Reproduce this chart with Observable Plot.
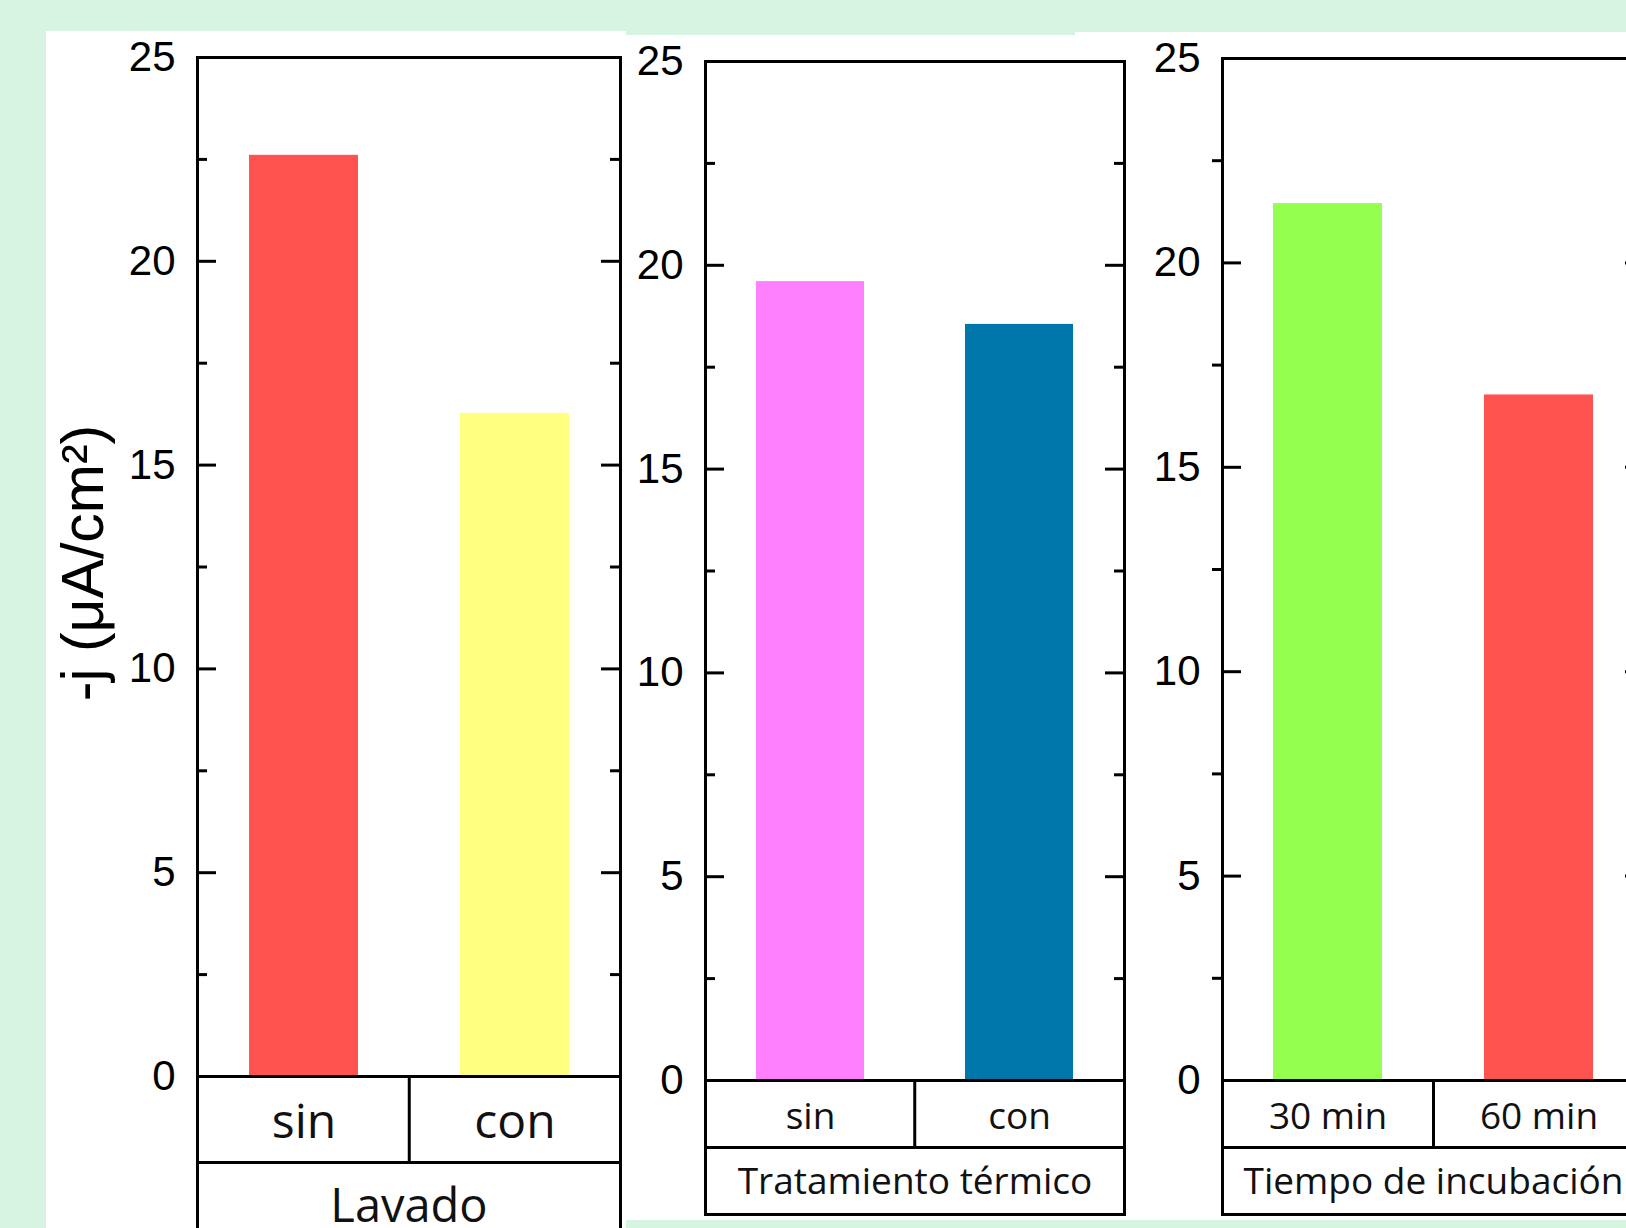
<!DOCTYPE html>
<html><head><meta charset="utf-8">
<script src="https://cdn.jsdelivr.net/npm/d3@7"></script>
<script src="https://cdn.jsdelivr.net/npm/@observablehq/plot@0.6"></script>
<style>
html,body{margin:0;padding:0;background:#d7f3e2;}
#root{position:relative;width:1626px;height:1228px;overflow:hidden;background:#d7f3e2;}
.bg{position:absolute;background:#fff;}
.panel{position:absolute;top:0;}
.panel svg{overflow:visible;max-width:none !important;}
</style></head><body><div id="root">
<div class="bg" style="left:46px;top:31px;width:580px;height:1197px"></div>
<div class="bg" style="left:626px;top:35px;width:450px;height:1185px"></div>
<div class="bg" style="left:1075px;top:32px;width:551px;height:1188px"></div>
</div>
<script>
// ---- data ----
const lavadoCats = ["sin", "con"];
const lavadoValues = [22.6, 16.27];
const lavadoColors = ["#ff5350", "#ffff80"];
const lavadoGroup = "Lavado";

const termicoCats = ["sin", "con"];
const termicoValues = [19.6, 18.55];
const termicoColors = ["#ff80ff", "#0077aa"];
const termicoGroup = "Tratamiento térmico";

const incubCats = ["30 min", "60 min"];
const incubValues = [21.45, 16.77];
const incubColors = ["#94ff4f", "#ff5350"];
const incubGroup = "Tiempo de incubación";

const yMajorTicks = [0, 5, 10, 15, 20, 25];
const yMinorTicks = [2.5, 7.5, 12.5, 17.5, 22.5];
const yLabel = "-j (μA/cm²)";

const NUMFONT = "Liberation Sans, Arial, sans-serif";
const CATFONT = "Open Sans, sans-serif";

function panel(o) {
  const H = 1228;
  const fw = o.frameRight - o.frameLeft;
  const ppu = (o.zero - o.top) / 25;
  const r1 = o.row1 / ppu, r2 = o.row2 / ppu;
  const step = fw / o.cats.length;
  const data = o.cats.map((c, i) => ({cat: c, v: o.values[i], color: o.colors[i]}));
  const sw = 3;
  const marks = [
    Plot.barY(data, {x: "cat", y: "v", fill: "color"}),
    // major ticks inward, both sides
    Plot.tickY(yMajorTicks, {y: d => d, insetRight: fw - 19, strokeWidth: sw}),
    Plot.tickY(yMajorTicks, {y: d => d, insetLeft: fw - 19, strokeWidth: sw}),
    // minor ticks
    o.minorOut
      ? Plot.tickY(yMinorTicks, {y: d => d, insetLeft: -10, insetRight: fw, strokeWidth: sw})
      : Plot.tickY(yMinorTicks, {y: d => d, insetRight: fw - 10, strokeWidth: sw}),
    o.minorOut
      ? Plot.tickY(yMinorTicks, {y: d => d, insetLeft: fw, insetRight: -10, strokeWidth: sw})
      : Plot.tickY(yMinorTicks, {y: d => d, insetLeft: fw - 10, strokeWidth: sw}),
    // table rows
    Plot.ruleY([0, -r1, -(r1 + r2)], {y: d => d, strokeWidth: sw}),
    Plot.ruleX(o.cats.slice(1), {x: d => d, y1: 0, y2: -r1, dx: -step / 2, strokeWidth: sw}),
    Plot.frame({strokeWidth: sw, insetBottom: -(o.row1 + o.row2)}),
    Plot.text(data, {x: "cat", y: () => -r1 / 2, dy: 3, text: "cat", fontSize: o.catFont, fontFamily: CATFONT, fill: "#111"}),
    Plot.text([o.group], {y: () => -(r1 + r2 / 2), dy: 1, text: d => d, fontSize: o.groupFont, fontFamily: CATFONT, fill: "#111"}),
    // tick labels
    Plot.text(yMajorTicks, {y: d => d, text: d => String(d), frameAnchor: "left", dx: -22, textAnchor: "end", fontSize: 42, fontFamily: NUMFONT, fill: "#000"})
  ];
  if (o.yLabel) {
    marks.push(Plot.text([o.yLabel], {frameAnchor: "left", textAnchor: "middle", dx: o.yLabelDx, dy: -4, rotate: -90, text: d => d, fontSize: 59, fontFamily: NUMFONT, fill: "#000"}));
  }
  const chart = Plot.plot({
    width: o.width,
    height: H,
    marginLeft: o.frameLeft - o.left,
    marginRight: o.left + o.width - o.frameRight,
    marginTop: o.top,
    marginBottom: H - o.zero,
    style: {background: "transparent", overflow: "visible"},
    x: {domain: o.cats, paddingInner: 0.485, paddingOuter: 0.2425, axis: null},
    y: {domain: [0, 25], axis: null},
    marks
  });
  const div = document.createElement("div");
  div.className = "panel";
  div.style.left = o.left + "px";
  div.style.width = o.width + "px";
  div.appendChild(chart);
  document.getElementById("root").appendChild(div);
}

panel({left: 0, width: 640, frameLeft: 197, frameRight: 620, top: 57, zero: 1076, row1: 86, row2: 86,
  cats: lavadoCats, values: lavadoValues, colors: lavadoColors, group: lavadoGroup,
  catFont: 48, groupFont: 47, minorOut: false, yLabel: yLabel, yLabelDx: -113});
panel({left: 640, width: 500, frameLeft: 705, frameRight: 1124, top: 61, zero: 1080, row1: 67, row2: 67,
  cats: termicoCats, values: termicoValues, colors: termicoColors, group: termicoGroup,
  catFont: 37, groupFont: 37, minorOut: false});
panel({left: 1140, width: 520, frameLeft: 1222, frameRight: 1644, top: 58, zero: 1080, row1: 67, row2: 67,
  cats: incubCats, values: incubValues, colors: incubColors, group: incubGroup,
  catFont: 37, groupFont: 37, minorOut: true});
</script>
</body></html>
